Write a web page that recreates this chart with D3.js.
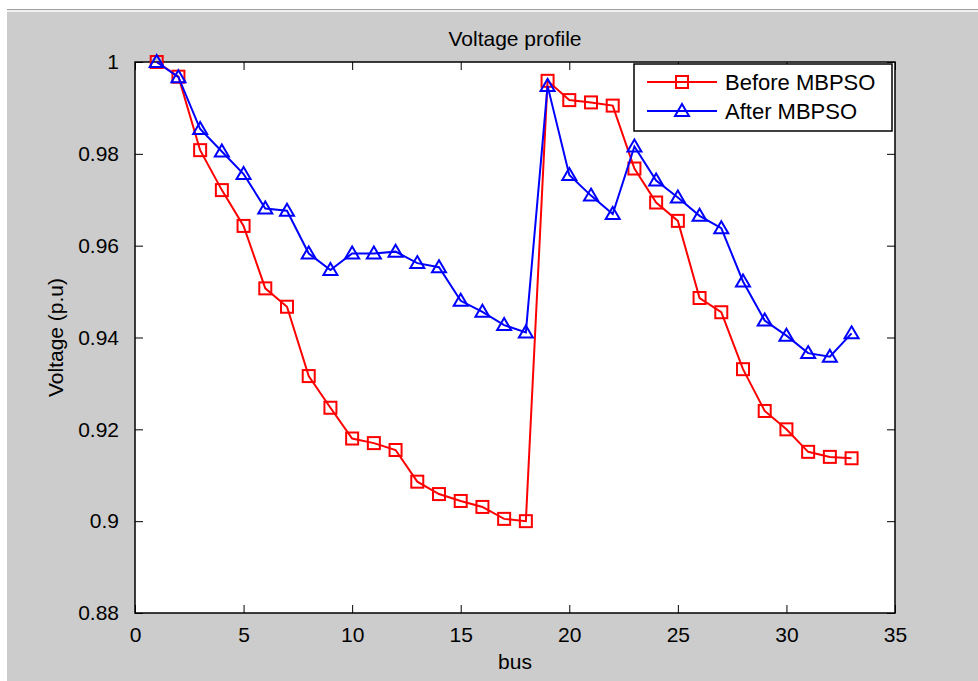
<!DOCTYPE html>
<html>
<head>
<meta charset="utf-8">
<script src="https://cdn.jsdelivr.net/npm/d3@7"></script>
<style>
  html, body { margin: 0; padding: 0; background: #fff; }
  text { font-family: Arial, "Liberation Sans", sans-serif; fill: #000; }
</style>
</head>
<body>
<div id="chart"></div>
<script>
// Voltage profile - before / after MBPSO (33 bus)

const buses = d3.range(1, 34);

const beforeMBPSO = [
  1.0000, 0.9968, 0.9808, 0.9721, 0.9643, 0.9507, 0.9467, 0.9316, 0.9247, 0.9180,
  0.9170, 0.9155, 0.9086, 0.9059, 0.9044, 0.9031, 0.9005, 0.9000, 0.9959, 0.9917,
  0.9912, 0.9905, 0.9768, 0.9694, 0.9654, 0.9486, 0.9455, 0.9331, 0.9240, 0.9200,
  0.9151, 0.9140, 0.9137
];

const afterMBPSO = [
  1.0000, 0.9967, 0.9854, 0.9805, 0.9756, 0.9681, 0.9676, 0.9583, 0.9547, 0.9583,
  0.9583, 0.9587, 0.9562, 0.9553, 0.9480, 0.9456, 0.9427, 0.9411, 0.9948, 0.9754,
  0.9709, 0.9669, 0.9816, 0.9742, 0.9705, 0.9665, 0.9638, 0.9522, 0.9437, 0.9404,
  0.9366, 0.9358, 0.9409
];

const xTicks = [0, 5, 10, 15, 20, 25, 30, 35];
const yTicks = [0.88, 0.9, 0.92, 0.94, 0.96, 0.98, 1];

const seriesNames = ["Before MBPSO", "After MBPSO"];

const W = 978, H = 681;
const margin = { top: 62, right: 83, bottom: 68, left: 135 };
const width = W - margin.left - margin.right;
const height = H - margin.top - margin.bottom;

const svg = d3.select("#chart")
  .append("svg")
  .attr("width", W)
  .attr("height", H);

// figure window background
svg.append("rect").attr("width", W).attr("height", H).attr("fill", "#fff");
svg.append("rect").attr("x", 7).attr("y", 9).attr("width", W - 7).attr("height", 1).attr("fill", "#a0a0a0");
svg.append("rect").attr("x", 7).attr("y", 10).attr("width", W - 7).attr("height", 2).attr("fill", "#f0f0f0");
svg.append("rect").attr("x", 7).attr("y", 12).attr("width", W - 7).attr("height", H - 12).attr("fill", "#cccccc");

const g = svg.append("g")
  .attr("transform", `translate(${margin.left},${margin.top})`);

const x = d3.scaleLinear().domain([0, 35]).range([0, width]);
const y = d3.scaleLinear().domain([0.88, 1]).range([height, 0]);

// plot area
g.append("rect")
  .attr("width", width)
  .attr("height", height)
  .attr("fill", "#fff");

// axes (ticks inward, box on)
const fmtY = d => d === 1 ? "1" : (d === 0.9 ? "0.9" : d3.format(".2f")(d));

g.append("g")
  .attr("transform", `translate(0,${height})`)
  .call(d3.axisBottom(x).tickValues(xTicks).tickSizeInner(-8).tickSizeOuter(0).tickPadding(14))
  .call(a => a.select(".domain").remove());

g.append("g")
  .call(d3.axisTop(x).tickValues(xTicks).tickSizeInner(-8).tickSizeOuter(0).tickFormat(""))
  .call(a => a.select(".domain").remove());

g.append("g")
  .call(d3.axisLeft(y).tickValues(yTicks).tickFormat(fmtY).tickSizeInner(-8).tickSizeOuter(0).tickPadding(16))
  .call(a => a.select(".domain").remove());

g.append("g")
  .attr("transform", `translate(${width},0)`)
  .call(d3.axisRight(y).tickValues(yTicks).tickSizeInner(-8).tickSizeOuter(0).tickFormat(""))
  .call(a => a.select(".domain").remove());

g.selectAll(".tick line").attr("stroke", "#000").attr("stroke-width", 1);
g.selectAll(".tick text").style("font-size", "21px").attr("fill", "#000");

g.append("rect")
  .attr("width", width)
  .attr("height", height)
  .attr("fill", "none")
  .attr("stroke", "#000")
  .attr("stroke-width", 1.5);

// series
const color = { "Before MBPSO": "#ff0000", "After MBPSO": "#0000ff" };

const line = d3.line()
  .x((d, i) => x(buses[i]))
  .y(d => y(d));

const sqSize = 12;
const triPath = "M0,-7 L7,5 L-7,5 Z";

g.append("path")
  .datum(beforeMBPSO)
  .attr("fill", "none")
  .attr("stroke", color["Before MBPSO"])
  .attr("stroke-width", 2)
  .attr("d", line);

g.selectAll(".sq")
  .data(beforeMBPSO)
  .enter()
  .append("rect")
  .attr("class", "sq")
  .attr("x", (d, i) => x(buses[i]) - sqSize / 2)
  .attr("y", d => y(d) - sqSize / 2)
  .attr("width", sqSize)
  .attr("height", sqSize)
  .attr("fill", "none")
  .attr("stroke", color["Before MBPSO"])
  .attr("stroke-width", 2);

g.append("path")
  .datum(afterMBPSO)
  .attr("fill", "none")
  .attr("stroke", color["After MBPSO"])
  .attr("stroke-width", 2)
  .attr("d", line);

g.selectAll(".tri")
  .data(afterMBPSO)
  .enter()
  .append("path")
  .attr("class", "tri")
  .attr("transform", (d, i) => `translate(${x(buses[i])},${y(d)})`)
  .attr("d", triPath)
  .attr("fill", "none")
  .attr("stroke", color["After MBPSO"])
  .attr("stroke-width", 2);

// title and labels
g.append("text")
  .attr("x", width / 2)
  .attr("y", -16)
  .attr("text-anchor", "middle")
  .style("font-size", "21px")
  .text("Voltage profile");

g.append("text")
  .attr("x", width / 2)
  .attr("y", height + 56)
  .attr("text-anchor", "middle")
  .style("font-size", "21px")
  .text("bus");

g.append("text")
  .attr("transform", "rotate(-90)")
  .attr("x", -height / 2)
  .attr("y", -72)
  .attr("text-anchor", "middle")
  .style("font-size", "21px")
  .text("Voltage (p.u)");

// legend
const legend = g.append("g")
  .attr("transform", `translate(${width - 261},2)`);

legend.append("rect")
  .attr("width", 258)
  .attr("height", 67)
  .attr("fill", "#fff")
  .attr("stroke", "#000")
  .attr("stroke-width", 1.5);

seriesNames.forEach((name, i) => {
  const row = legend.append("g")
    .attr("transform", `translate(0,${18 + i * 29})`);
  row.append("line")
    .attr("x1", 13).attr("x2", 83)
    .attr("stroke", color[name])
    .attr("stroke-width", 2);
  if (i === 0) {
    row.append("rect")
      .attr("x", 48 - sqSize / 2).attr("y", -sqSize / 2)
      .attr("width", sqSize).attr("height", sqSize)
      .attr("fill", "none")
      .attr("stroke", color[name])
      .attr("stroke-width", 2);
  } else {
    row.append("path")
      .attr("transform", "translate(48,0)")
      .attr("d", triPath)
      .attr("fill", "none")
      .attr("stroke", color[name])
      .attr("stroke-width", 2);
  }
  row.append("text")
    .attr("x", 91)
    .attr("y", 8)
    .style("font-size", "22px")
    .text(name);
});
</script>
</body>
</html>
